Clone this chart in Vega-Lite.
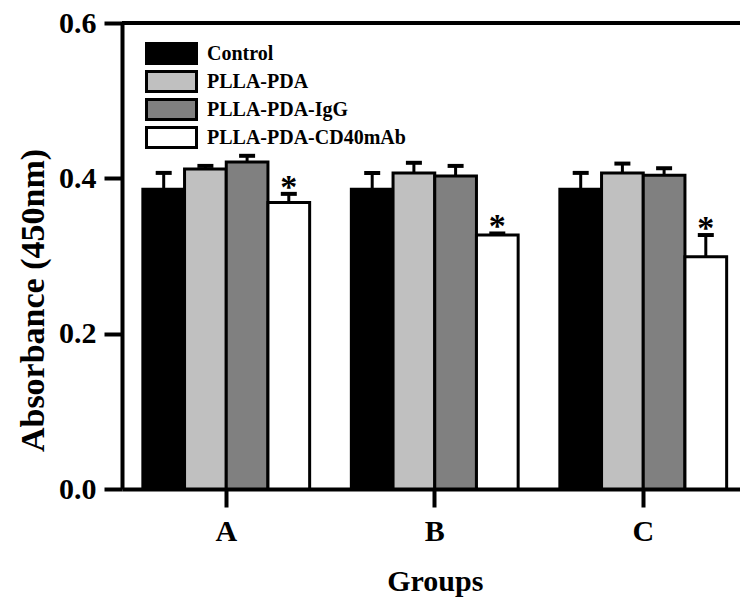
{
  "$schema": "https://vega.github.io/schema/vega-lite/v6.json",
  "width": 618,
  "height": 466,
  "autosize": {"type": "none"},
  "padding": {"left": 122, "top": 23, "right": 0, "bottom": 116},
  "background": "white",
  "config": {
    "view": {"stroke": null},
    "font": "Liberation Serif",
    "axis": {
      "labelFont": "Liberation Serif",
      "labelFontWeight": "bold",
      "labelFontSize": 30,
      "labelColor": "black",
      "titleFont": "Liberation Serif",
      "titleFontWeight": "bold",
      "titleFontSize": 30,
      "titleColor": "black",
      "domainColor": "black",
      "domainWidth": 4,
      "tickColor": "black",
      "tickWidth": 4,
      "tickSize": 18,
      "grid": false
    }
  },
  "data": {
    "values": [
      {"group": "A", "series": "Control", "value": 0.386, "upper": 0.407, "sig": ""},
      {"group": "A", "series": "PLLA-PDA", "value": 0.412, "upper": 0.416, "sig": ""},
      {"group": "A", "series": "PLLA-PDA-IgG", "value": 0.421, "upper": 0.429, "sig": ""},
      {"group": "A", "series": "PLLA-PDA-CD40mAb", "value": 0.369, "upper": 0.380, "sig": "*"},
      {"group": "B", "series": "Control", "value": 0.386, "upper": 0.407, "sig": ""},
      {"group": "B", "series": "PLLA-PDA", "value": 0.407, "upper": 0.420, "sig": ""},
      {"group": "B", "series": "PLLA-PDA-IgG", "value": 0.403, "upper": 0.416, "sig": ""},
      {"group": "B", "series": "PLLA-PDA-CD40mAb", "value": 0.327, "upper": 0.329, "sig": "*"},
      {"group": "C", "series": "Control", "value": 0.386, "upper": 0.407, "sig": ""},
      {"group": "C", "series": "PLLA-PDA", "value": 0.407, "upper": 0.419, "sig": ""},
      {"group": "C", "series": "PLLA-PDA-IgG", "value": 0.404, "upper": 0.413, "sig": ""},
      {"group": "C", "series": "PLLA-PDA-CD40mAb", "value": 0.299, "upper": 0.327, "sig": "*"}
    ]
  },
  "layer": [
    {
      "mark": {"type": "bar", "stroke": "black", "strokeWidth": 3},
      "encoding": {
        "x": {
          "field": "group",
          "type": "nominal",
          "scale": {"range": [0, 625.5], "paddingInner": 0.2, "paddingOuter": 0.1},
          "axis": {"title": "Groups", "labelAngle": 0, "labelPadding": 9, "titlePadding": 20}
        },
        "xOffset": {
          "field": "series",
          "type": "nominal",
          "sort": ["Control", "PLLA-PDA", "PLLA-PDA-IgG", "PLLA-PDA-CD40mAb"],
          "scale": {"paddingInner": 0, "paddingOuter": 0}
        },
        "y": {
          "field": "value",
          "type": "quantitative",
          "scale": {"domain": [0, 0.6], "nice": false},
          "axis": {"title": "Absorbance (450nm)", "values": [0, 0.2, 0.4, 0.6], "format": ".1f", "labelPadding": 8, "titlePadding": 8, "titleFontSize": 34, "titleY": 277}
        },
        "fill": {
          "field": "series",
          "type": "nominal",
          "sort": ["Control", "PLLA-PDA", "PLLA-PDA-IgG", "PLLA-PDA-CD40mAb"],
          "scale": {
            "domain": ["Control", "PLLA-PDA", "PLLA-PDA-IgG", "PLLA-PDA-CD40mAb"],
            "range": ["#000000", "#c0c0c0", "#808080", "#ffffff"]
          },
          "legend": {
            "title": null,
            "orient": "none",
            "legendX": 38,
            "legendY": 19,
            "padding": 0,
            "symbolType": "M-2.5,-1H2.5V1H-2.5Z",
            "symbolSize": 400,
            "symbolStrokeColor": "black",
            "symbolStrokeWidth": 3,
            "symbolOpacity": 1,
            "labelFont": "Liberation Serif",
            "labelFontWeight": "bold",
            "labelFontSize": 20,
            "labelColor": "black",
            "labelLimit": 0,
            "labelOffset": 24,
            "rowPadding": -8
          }
        }
      }
    },
    {
      "mark": {"type": "rule", "color": "black", "strokeWidth": 3},
      "encoding": {
        "x": {"field": "group", "type": "nominal"},
        "xOffset": {"field": "series", "type": "nominal", "sort": ["Control", "PLLA-PDA", "PLLA-PDA-IgG", "PLLA-PDA-CD40mAb"]},
        "y": {"field": "value", "type": "quantitative"},
        "y2": {"field": "upper"}
      }
    },
    {
      "mark": {"type": "tick", "color": "black", "thickness": 4, "size": 16, "opacity": 1},
      "encoding": {
        "x": {"field": "group", "type": "nominal"},
        "xOffset": {"field": "series", "type": "nominal", "sort": ["Control", "PLLA-PDA", "PLLA-PDA-IgG", "PLLA-PDA-CD40mAb"]},
        "y": {"field": "upper", "type": "quantitative"}
      }
    },
    {
      "mark": {"type": "text", "font": "Liberation Serif", "fontWeight": "bold", "fontSize": 34, "baseline": "alphabetic", "dy": 4, "color": "black"},
      "encoding": {
        "x": {"field": "group", "type": "nominal"},
        "xOffset": {"field": "series", "type": "nominal", "sort": ["Control", "PLLA-PDA", "PLLA-PDA-IgG", "PLLA-PDA-CD40mAb"]},
        "y": {"field": "upper", "type": "quantitative"},
        "text": {"field": "sig"}
      }
    },
    {
      "mark": {"type": "rule", "color": "black", "strokeWidth": 4},
      "encoding": {
        "y": {"datum": 0.6}
      }
    }
  ]
}
